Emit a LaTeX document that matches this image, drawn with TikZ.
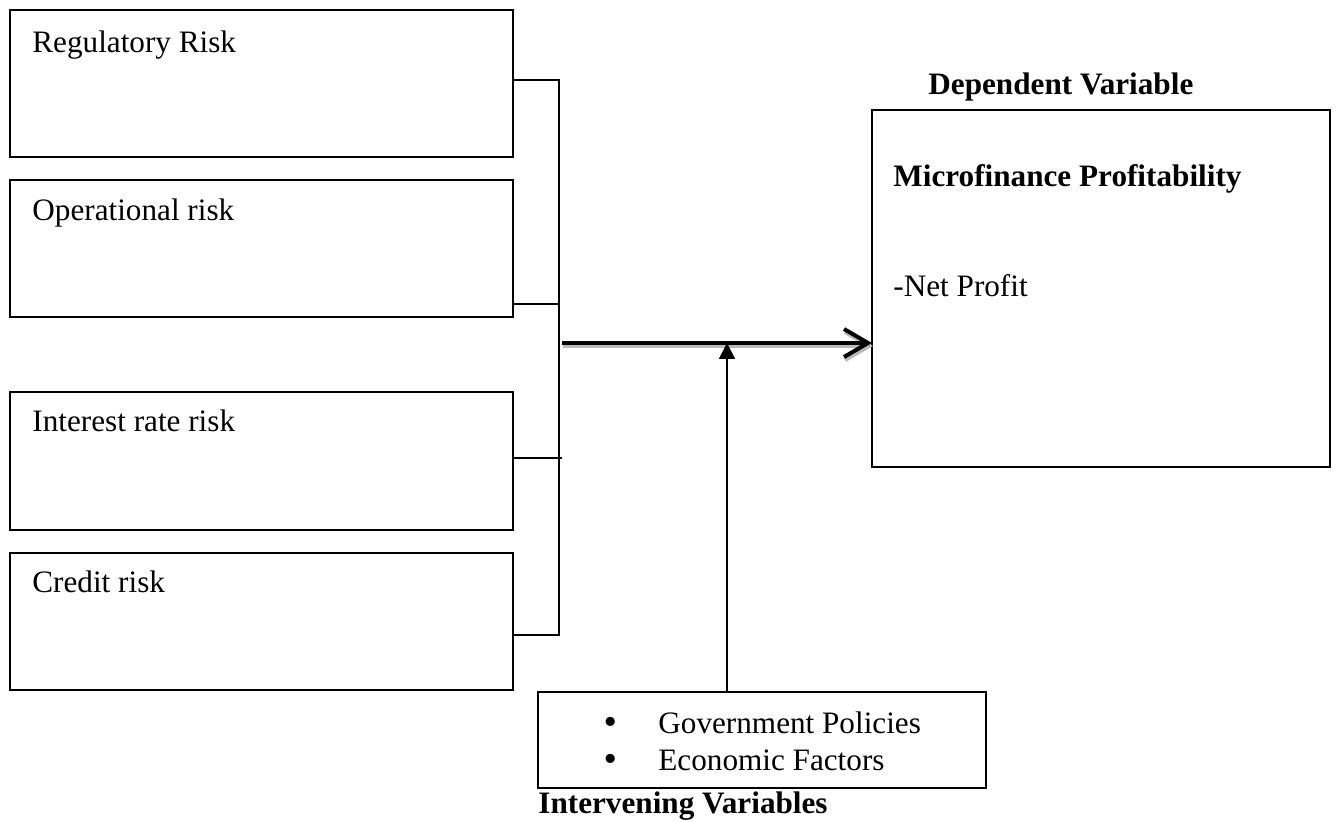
\documentclass[tikz,border=0pt]{standalone}
\usepackage{fontspec}
\setmainfont{Liberation Serif}
\newfontfamily\bulletfont{DejaVu Sans}
\usetikzlibrary{arrows.meta}
\begin{document}
\begin{tikzpicture}[x=0.5pt,y=-0.5pt,
font=\fontsize{15.6pt}{18.5pt}\selectfont,
box/.style={draw,line width=1pt,inner sep=0pt,outer sep=0pt,anchor=north west},
riskbox/.style={box,minimum width=251.5pt},
txt/.style={anchor=base west,inner sep=0pt},
bold/.style={txt,font=\fontsize{15.6pt}{18.5pt}\selectfont\bfseries},
flow/.style={line width=2pt,-{Straight Barb[length=12pt,width=14pt]}}]
\newcommand{\ivbullet}{\makebox[28.5pt][l]{\bulletfont\textbullet}}
\useasboundingbox (0,0) rectangle (1337,822);
\node[riskbox,minimum height=73.5pt] (reg) at (10,10) {};
\node[riskbox,minimum height=68.5pt] (op) at (10,180) {};
\node[riskbox,minimum height=69pt] (int) at (10,392) {};
\node[riskbox,minimum height=68.5pt] (cred) at (10,553) {};
\node[txt] (regtxt) at ([shift={(22,43)}]reg.north west) {Regulatory Risk};
\node[txt] (optxt) at ([shift={(22,41)}]op.north west) {Operational risk};
\node[txt] (inttxt) at ([shift={(22,40)}]int.north west) {Interest rate risk};
\node[txt] (credtxt) at ([shift={(22,40)}]cred.north west) {Credit risk};
\node[box,minimum width=229pt,minimum height=178.5pt] (dep) at (872,110) {};
\node[bold] (deptitle) at (928,95) {Dependent Variable};
\node[bold] (deptxt) at ([shift={(21,77)}]dep.north west) {Microfinance Profitability};
\node[txt] (netp) at ([shift={(21,187)}]dep.north west) {-Net Profit};
\node[box,minimum width=224pt,minimum height=48pt] (iv) at (538,692) {};
\node[txt,align=left] (ivlist) at ([shift={(63,78)}]iv.north west) {\ivbullet Government Policies\\\ivbullet Economic Factors};
\node[bold] (ivtitle) at (538,813) {Intervening Variables};
\coordinate (top) at (559,80);
\coordinate (bot) at (559,635);
\coordinate (mid) at (562,343);
\coordinate (join) at (727,343);
\draw[line width=1pt] (reg.east |- top) -- (top) -- (bot) -- (cred.east |- bot);
\draw[line width=1pt] (op.east |- 0,304) -- (559,304);
\draw[line width=1pt] (int.east |- 0,458) -- (562,458);
\draw[flow,gray!55,transform canvas={shift={(0.5pt,-1.5pt)}}] (mid) -- (mid -| dep.west);
\draw[flow] (mid) -- (mid -| dep.west);
\draw[line width=1pt,-{Triangle[length=8pt,width=8pt]}] (iv.north -| join) -- (join);
\end{tikzpicture}
\end{document}
